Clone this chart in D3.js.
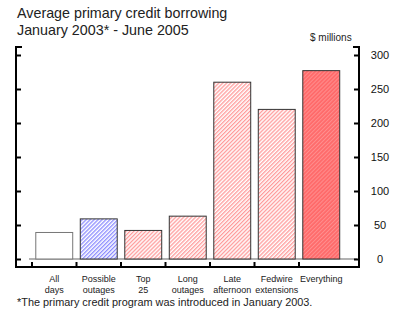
<!DOCTYPE html>
<html><head><meta charset="utf-8">
<script src="https://cdn.jsdelivr.net/npm/d3@7"></script>
<style>body{margin:0;background:#fff}svg{display:block}</style>
</head><body>
<script>
const categories = ["All days","Possible outages","Top 25","Long outages","Late afternoon","Fedwire extensions","Everything"];
const labelLine1 = ["All","Possible","Top","Long","Late","Fedwire","Everything"];
const labelLine2 = ["days","outages","25","outages","afternoon","extensions",""];
const values = [39, 59, 42, 63, 260, 220, 277];
const fills = ["none","blue","pink","pink","pink","pink","red"];
const yTicks = [0,50,100,150,200,250,300];

const W=400,H=322;
const svg=d3.select("body").append("svg").attr("width",W).attr("height",H);
const defs=svg.append("defs");
function hatch(id,bg,fg,sw,sp){
  const p=defs.append("pattern").attr("id",id).attr("patternUnits","userSpaceOnUse")
    .attr("width",sp).attr("height",sp).attr("patternTransform","rotate(45)");
  p.append("rect").attr("width",sp).attr("height",sp).attr("fill",bg);
  p.append("rect").attr("width",sw).attr("height",sp).attr("fill",fg);
}
hatch("blue","#ffffff","#8c8cff",1.3,2.8);
hatch("pink","#ffffff","#ff9a9a",1.3,2.8);
hatch("red","#ff6a6a","#ff8e8e",1.0,2.8);

const x=d3.scaleBand().domain(categories).range([32,343.5]).padding(0);
const y=d3.scaleLinear().domain([0,300]).range([259,55]);
const bw=x.bandwidth()*0.83;
const font="Liberation Sans, Arial, sans-serif";

// baseline
svg.append("line").attr("x1",29).attr("x2",357).attr("y1",y(0)).attr("y2",y(0))
  .attr("stroke","#999").attr("stroke-width",1.5);

// bars
svg.selectAll("rect.bar").data(categories).enter().append("rect").attr("class","bar")
  .attr("x",d=>x(d)+(x.bandwidth()-bw)/2)
  .attr("y",(d,i)=>y(values[i]))
  .attr("width",bw)
  .attr("height",(d,i)=>y(0)-y(values[i]))
  .attr("fill",(d,i)=>fills[i]==="none"?"#fff":`url(#${fills[i]})`)
  .attr("stroke",(d,i)=>i===0?"#777":"#333")
  .attr("stroke-width",1);

// frame
const fr=svg.append("g").attr("stroke","#000").attr("stroke-width",2).attr("fill","none");
fr.append("path").attr("d","M22,47H16V267H360");
fr.append("path").attr("d","M353,47H359V267");

// y ticks
const lt=svg.append("g").attr("transform","translate(16,0)")
  .call(d3.axisRight(y).tickValues(yTicks).tickSize(5).tickFormat(""));
lt.select(".domain").remove();
lt.selectAll("line").attr("stroke","#000").attr("stroke-width",2);
const rt=svg.append("g").attr("transform","translate(359,0)")
  .call(d3.axisLeft(y).tickValues(yTicks).tickSize(5).tickFormat(""));
rt.select(".domain").remove();
rt.selectAll("line").attr("stroke","#000").attr("stroke-width",2);
svg.append("g").selectAll("text").data(yTicks).enter().append("text")
  .attr("x",380).attr("y",d=>y(d)+4).attr("text-anchor","middle")
  .attr("font-family",font).attr("font-size",11).attr("fill","#111").text(d=>d);

// x ticks at band starts
svg.append("g").selectAll("line").data(categories).enter().append("line")
  .attr("x1",d=>x(d)).attr("x2",d=>x(d)).attr("y1",262).attr("y2",267)
  .attr("stroke","#000").attr("stroke-width",2);

// category labels
const cl=svg.append("g").attr("font-family",font).attr("font-size",9).attr("fill","#222").attr("text-anchor","middle");
categories.forEach((c,i)=>{
  const cx=x(c)+x.bandwidth()/2;
  cl.append("text").attr("x",cx).attr("y",282).text(labelLine1[i]);
  if(labelLine2[i]) cl.append("text").attr("x",cx).attr("y",293).text(labelLine2[i]);
});

// titles
const t=svg.append("g").attr("font-family",font).attr("fill","#222");
t.append("text").attr("x",17).attr("y",18).attr("font-size",14.3).text("Average primary credit borrowing");
t.append("text").attr("x",17).attr("y",35).attr("font-size",14.3).text("January 2003* - June 2005");
t.append("text").attr("x",310).attr("y",41).attr("font-size",10).text("$ millions");
t.append("text").attr("x",17).attr("y",306).attr("font-size",10.9).text("*The primary credit program was introduced in January 2003.");
</script>
</body></html>
